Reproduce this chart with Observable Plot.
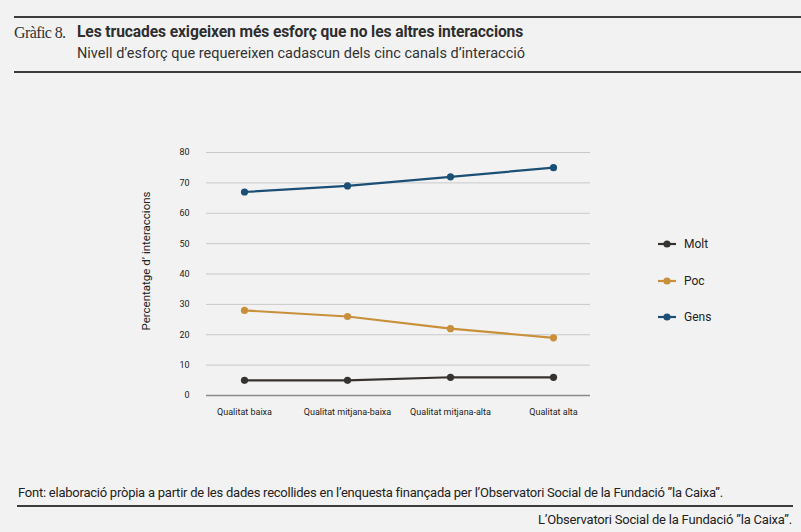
<!DOCTYPE html>
<html>
<head>
<meta charset="utf-8">
<script src="https://cdn.jsdelivr.net/npm/d3@7"></script>
<script src="https://cdn.jsdelivr.net/npm/@observablehq/plot@0.6"></script>
<style>
  html, body { margin: 0; padding: 0; background: #f2f2f2; }
  #page { position: relative; width: 801px; height: 532px; background: #f2f2f2; overflow: hidden; font-family: Roboto, "Liberation Sans", sans-serif; color: #2b2b2b; }
  .rule { position: absolute; height: 2px; background: #3c3c3c; }
  #num { position: absolute; left: 14px; top: 24px; font-family: "Liberation Serif", "DejaVu Serif", serif; font-size: 16px; color: #333; letter-spacing: -0.6px; }
  #title { position: absolute; left: 77px; top: 23px; font-size: 15.6px; font-weight: bold; color: #2e2e2e; letter-spacing: -0.1px; }
  #subtitle { position: absolute; left: 77px; top: 45px; font-size: 14.5px; color: #333; }
  #chart { position: absolute; left: 0; top: 80px; }
  .li { position: absolute; left: 656px; height: 14px; display: flex; align-items: center; font-size: 12px; color: #222; white-space: nowrap; }
  .li svg { margin-right: 6px; }
  #source { position: absolute; left: 18px; top: 485px; font-size: 13px; color: #222; letter-spacing: -0.24px; }
  #credit { position: absolute; right: 9px; top: 512px; font-size: 13px; color: #222; letter-spacing: -0.2px; }
</style>
</head>
<body>
<div id="page">
  <div class="rule" style="left:14px; right:0; top:16px;"></div>
  <div id="num">Gràfic 8.</div>
  <div id="title">Les trucades exigeixen més esforç que no les altres interaccions</div>
  <div id="subtitle">Nivell d’esforç que requereixen cadascun dels cinc canals d’interacció</div>
  <div class="rule" style="left:14px; right:0; top:71px;"></div>
  <div id="chart"></div>
  <div id="source">Font: elaboració pròpia a partir de les dades recollides en l’enquesta finançada per l’Observatori Social de la Fundació ”la Caixa”.</div>
  <div class="rule" style="left:17px; width:776px; top:505px;"></div>
  <div id="credit">L’Observatori Social de la Fundació ”la Caixa”.</div>
</div>
<script>
const categories = ["Qualitat baixa", "Qualitat mitjana-baixa", "Qualitat mitjana-alta", "Qualitat alta"];
const seriesNames = ["Molt", "Poc", "Gens"];
const seriesColors = ["#36322f", "#c8903a", "#1b4f75"];
const molt = [5, 5, 6, 6];
const poc = [28, 26, 22, 19];
const gens = [67, 69, 72, 75];
const yTicks = [0, 10, 20, 30, 40, 50, 60, 70, 80];
const yLabel = "Percentatge d’ interaccions";

const values = [molt, poc, gens];
const data = [];
seriesNames.forEach((s, i) => {
  categories.forEach((c, j) => data.push({series: s, category: c, value: values[i][j]}));
});

const chart = Plot.plot({
  width: 801,
  height: 350,
  marginLeft: 206,
  marginRight: 211,
  marginTop: 72,
  marginBottom: 35,
  style: {background: "transparent", fontFamily: "Roboto, 'Liberation Sans', sans-serif", color: "#222"},
  x: {type: "point", domain: categories, padding: 0.36, label: null},
  y: {domain: [0, 80], ticks: yTicks, label: null},
  color: {domain: seriesNames, range: seriesColors},
  marks: [
    Plot.ruleY(yTicks.filter(d => d > 0), {stroke: "#c9c9c9", strokeWidth: 1}),
    Plot.ruleY([0], {stroke: "#8a8a8a", strokeWidth: 1.5}),
    Plot.axisY({ticks: yTicks, tickSize: 0, tickPadding: 17, fontSize: 9, label: null}),
    Plot.axisX({tickSize: 0, tickPadding: 13, fontSize: 9, label: null}),
    Plot.text([yLabel], {frameAnchor: "left", textAnchor: "middle", dx: -60, dy: -13, rotate: -90, fontSize: 11.5, fill: "#222"}),
    Plot.line(data, {x: "category", y: "value", z: "series", stroke: "series", strokeWidth: 2.2}),
    Plot.dot(data, {x: "category", y: "value", fill: "series", r: 3.6})
  ]
});
document.getElementById("chart").appendChild(chart);

const page = document.getElementById("page");
const legendCenters = [244, 281, 317];
seriesNames.forEach((s, i) => {
  const div = document.createElement("div");
  div.className = "li";
  div.style.top = (legendCenters[i] - 7) + "px";
  div.innerHTML = `<svg width="22" height="10"><line x1="2" x2="20" y1="5" y2="5" stroke="${seriesColors[i]}" stroke-width="2.2"/><circle cx="11" cy="5" r="3.6" fill="${seriesColors[i]}"/></svg><span>${s}</span>`;
  page.appendChild(div);
});
</script>
</body>
</html>
